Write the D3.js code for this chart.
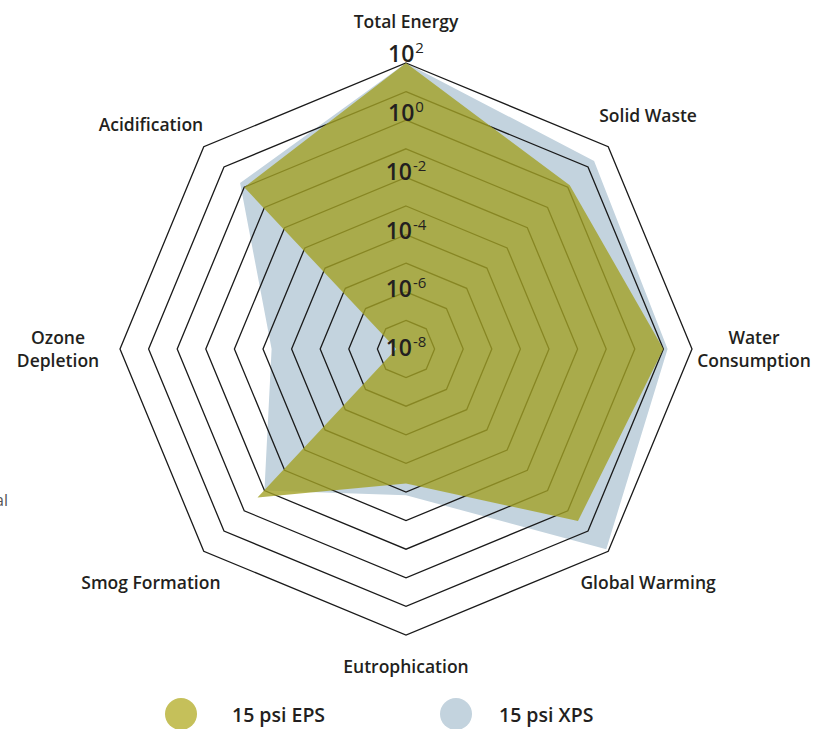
<!DOCTYPE html>
<html>
<head>
<meta charset="utf-8">
<script src="https://cdn.jsdelivr.net/npm/d3@7"></script>
<style>
  body { margin: 0; background: #fff; }
  text { font-family: "Open Sans", sans-serif; fill: #231f20; }
</style>
</head>
<body>
<svg id="radar" width="822" height="729"></svg>
<script>

// impact categories, clockwise from the top
var categories = ["Total Energy", "Solid Waste", "Water Consumption", "Global Warming",
                  "Eutrophication", "Smog Formation", "Ozone Depletion", "Acidification"];

// values (10^-8 .. 10^2)
var epsValues = [1e2, 1.25, 10, 3.2, 5e-4, 0.22, 2.2e-8, 1.0];
var xpsValues = [1e2, 20, 14, 80, 1.3e-3, 0.1, 5e-4, 1.6];

var ringValues = [1e-7, 1e-6, 1e-5, 1e-4, 1e-3, 1e-2, 1e-1, 1e0, 1e1, 1e2];
var tickExponents = [2, 0, -2, -4, -6, -8];

var seriesNames = ["15 psi EPS", "15 psi XPS"];


var cx = 406,
    cy = 349,
    outer = 286;

var svg = d3.select("#radar");

var r = d3.scaleLog()
            .domain([1e-8, 1e2])
            .range([0, outer]);

var angle = d3.scaleLinear()
            .domain([0, categories.length])
            .range([0, 2 * Math.PI]);

var radial = d3.lineRadial()
            .angle(function(d, i) { return angle(i); })
            .radius(function(d) { return r(d); })
            .curve(d3.curveLinearClosed);

var g = svg.append("g")
            .attr("transform", "translate(" + cx + "," + cy + ")");


// XPS first so the grid sits on top of it
g.append("path")
    .datum(xpsValues)
    .attr("d", radial)
    .style("fill", "#c3d3de");

// octagon rings, one per decade
g.append("g")
    .attr("class", "rings")
    .selectAll("path")
    .data(ringValues)
    .enter().append("path")
    .attr("d", function(v) { return radial(categories.map(function() { return v; })); })
    .style("fill", "none")
    .style("stroke", "#1a1a1a")
    .style("stroke-width", "1.3px");

// EPS over the grid, slightly see-through
g.append("path")
    .datum(epsValues)
    .attr("d", radial)
    .style("fill", "#a2a126")
    .style("fill-opacity", 0.8);


// decade labels down the top axis
var ticks = g.append("g")
            .selectAll("text")
            .data(tickExponents)
            .enter().append("text")
            .attr("x", 0)
            .attr("y", function(e) {
                if (e === 2) { return -r(Math.pow(10, e)) - 1; }
                return -r(Math.pow(10, e)) * 1.025 + 7;
            })
            .attr("text-anchor", "middle")
            .style("font-size", "23px")
            .style("font-weight", 600);

ticks.append("tspan").text("10");
ticks.append("tspan")
    .attr("dx", "1")
    .attr("dy", "-9")
    .style("font-size", "15px")
    .style("font-weight", 500)
    .text(function(e) { return e; });


// category labels round the outside
var labels = g.append("g")
            .selectAll("text")
            .data(categories)
            .enter().append("text")
            .attr("transform", function(d, i) {
                var a = angle(i),
                    s = Math.sin(a),
                    c = Math.cos(a),
                    diag = Math.abs(s) > 0.1 && Math.abs(c) > 0.1,
                    x = s * 348 + (diag ? (s < 0 ? -9 : -4) : 0),
                    y = -c * (c < -0.9 ? 318 : 327);
                if (diag && c < 0) { y += 3; }
                if (diag && c > 0) { y += (s < 0 ? 7 : -2); }
                return "translate(" + x + "," + y + ")";
            })
            .attr("text-anchor", "middle")
            .style("font-size", "17.5px")
            .style("font-weight", 600);

labels.each(function(d) {
    var words = d.split(" "),
        two = d === "Water Consumption" || d === "Ozone Depletion",
        lines = two ? words : [d],
        el = d3.select(this);
    lines.forEach(function(w, k) {
        el.append("tspan")
            .attr("x", 0)
            .attr("dy", k === 0 ? (two ? "-0.3em" : "0.35em") : "1.3em")
            .text(w);
    });
});


// legend
var legendColours = ["#c5c05a", "#c3d3de"];

var legend = svg.append("g")
            .selectAll("g")
            .data(seriesNames)
            .enter().append("g")
            .attr("transform", function(d, i) { return "translate(" + (181 + i * 275) + ",714)"; });

legend.append("circle")
    .attr("r", 16)
    .style("fill", function(d, i) { return legendColours[i]; });

legend.append("text")
    .attr("x", function(d, i) { return i === 0 ? 51 : 43; })
    .attr("y", 8)
    .style("font-size", "19.5px")
    .style("font-weight", 600)
    .text(function(d) { return d; });

// stray fragment of page text at the left edge
svg.append("text")
    .attr("x", -5)
    .attr("y", 506)
    .style("font-size", "16px")
    .style("fill", "#555")
    .text("al");

</script>
</body>
</html>
